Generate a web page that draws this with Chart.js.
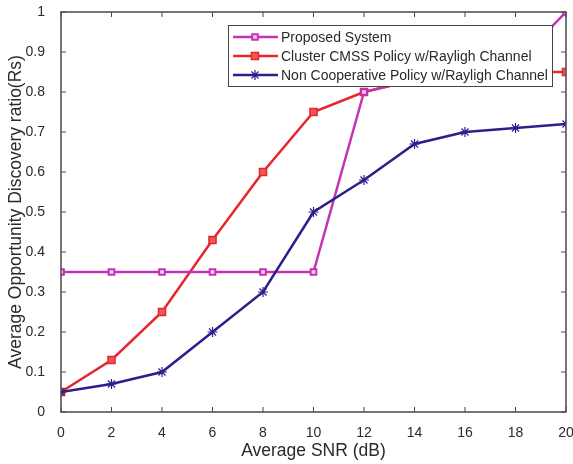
<!DOCTYPE html>
<html>
<head>
<meta charset="utf-8">
<script src="https://cdn.jsdelivr.net/npm/chart.js@4"></script>
<style>
  html, body { margin: 0; padding: 0; background: #fff; }
  #wrap { width: 573px; height: 464px; }
</style>
</head>
<body>
<div id="wrap"><canvas id="chart-snr" width="573" height="464"></canvas></div>
<script>
// x axis values (dB)
const snrLabels = [0, 2, 4, 6, 8, 10, 12, 14, 16, 18, 20];

// series
const proposedSystem = [0.35, 0.35, 0.35, 0.35, 0.35, 0.35, 0.8, 0.83, 0.85, 0.87, 1.0];
const clusterCmss = [0.05, 0.13, 0.25, 0.43, 0.6, 0.75, 0.8, 0.83, 0.85, 0.85, 0.85];
const nonCooperative = [0.05, 0.07, 0.1, 0.2, 0.3, 0.5, 0.58, 0.67, 0.7, 0.71, 0.72];

const seriesNames = [
  "Proposed System",
  "Cluster CMSS Policy w/Rayligh Channel",
  "Non Cooperative Policy w/Rayligh Channel",
];

const FONT = "'Liberation Sans', Arial, sans-serif";
const AXIS_COLOR = "#4a4a4a";
const TEXT_COLOR = "#2a2a2a";

function toPoints(arr) {
  return snrLabels.map((x, i) => ({ x: x, y: arr[i] }));
}

// box around plot + inward ticks (matlab style) + legend box
const boxPlugin = {
  id: "boxPlugin",
  afterDatasetsDraw(chart) {
    const { ctx, chartArea } = chart;
    const xs = chart.scales.x;
    const ys = chart.scales.y;
    ctx.save();
    ctx.strokeStyle = AXIS_COLOR;
    ctx.lineWidth = 1.5;
    ctx.strokeRect(chartArea.left, chartArea.top, chartArea.right - chartArea.left, chartArea.bottom - chartArea.top);
    ctx.lineWidth = 1;
    const len = 5;
    xs.ticks.forEach((t) => {
      const px = xs.getPixelForValue(t.value);
      ctx.beginPath();
      ctx.moveTo(px, chartArea.bottom);
      ctx.lineTo(px, chartArea.bottom - len);
      ctx.moveTo(px, chartArea.top);
      ctx.lineTo(px, chartArea.top + len);
      ctx.stroke();
    });
    ys.ticks.forEach((t) => {
      const py = ys.getPixelForValue(t.value);
      ctx.beginPath();
      ctx.moveTo(chartArea.left, py);
      ctx.lineTo(chartArea.left + len, py);
      ctx.moveTo(chartArea.right, py);
      ctx.lineTo(chartArea.right - len, py);
      ctx.stroke();
    });
    ctx.restore();
  },
  afterDraw(chart) {
    const { ctx } = chart;
    const bx = 228, by = 25, bw = 324, bh = 61;
    ctx.save();
    ctx.fillStyle = "#fff";
    ctx.fillRect(bx, by, bw, bh);
    ctx.strokeStyle = "#444";
    ctx.lineWidth = 1;
    ctx.strokeRect(bx + 0.5, by + 0.5, bw, bh);
    const rows = [37, 56, 75];
    chart.data.datasets.forEach((ds, i) => {
      const y = rows[i];
      ctx.strokeStyle = ds.borderColor;
      ctx.lineWidth = 2.5;
      ctx.beginPath();
      ctx.moveTo(bx + 5, y);
      ctx.lineTo(bx + 50, y);
      ctx.stroke();
      ctx.fillStyle = ds.pointBackgroundColor;
      ctx.strokeStyle = ds.borderColor;
      ctx.lineWidth = ds.pointBorderWidth;
      Chart.helpers.drawPoint(ctx, {
        pointStyle: ds.pointStyle,
        radius: ds.pointRadius,
        borderWidth: ds.pointBorderWidth,
        rotation: 0,
      }, bx + 27, y);
      ctx.fillStyle = TEXT_COLOR;
      ctx.font = "14px " + FONT;
      ctx.textBaseline = "middle";
      ctx.textAlign = "left";
      ctx.fillText(ds.label, bx + 53, y + 1);
    });
    ctx.restore();
  },
};

const ctxSnr = document.getElementById("chart-snr");

new Chart(ctxSnr, {
  type: "line",
  data: {
    datasets: [
      {
        label: seriesNames[0],
        data: toPoints(proposedSystem),
        borderColor: "#c234b4",
        backgroundColor: "#f2d2ee",
        pointBackgroundColor: "#f2d2ee",
        pointStyle: "rect",
        pointRadius: 4,
        pointBorderWidth: 2,
        borderWidth: 2.5,
        order: 1,
      },
      {
        label: seriesNames[1],
        data: toPoints(clusterCmss),
        borderColor: "#e8252b",
        backgroundColor: "#e8252b",
        pointBackgroundColor: "#ee5a5a",
        pointStyle: "rect",
        pointRadius: 5,
        pointBorderWidth: 1.5,
        borderWidth: 2.5,
        order: 2,
      },
      {
        label: seriesNames[2],
        data: toPoints(nonCooperative),
        borderColor: "#2c1f8c",
        backgroundColor: "#2c1f8c",
        pointBackgroundColor: "#2c1f8c",
        pointStyle: "star",
        pointRadius: 5,
        pointBorderWidth: 1.2,
        borderWidth: 2.5,
        order: 0,
      },
    ],
  },
  options: {
    responsive: false,
    animation: false,
    layout: { padding: { top: 12, right: 7, left: 0, bottom: 0 } },
    plugins: {
      legend: { display: false },
      tooltip: { enabled: false },
    },
    scales: {
      x: {
        type: "linear",
        min: 0,
        max: 20,
        ticks: { stepSize: 2, color: TEXT_COLOR, font: { family: FONT, size: 14 }, padding: 5 },
        grid: { display: false },
        border: { display: false },
        title: { display: true, text: "Average SNR (dB)", color: TEXT_COLOR, font: { family: FONT, size: 17.5 }, padding: { top: 0, bottom: 2 } },
        afterFit(scale) {
          scale.height = 52;
          scale.paddingLeft = 0;
          scale.paddingRight = 0;
        },
      },
      y: {
        min: 0,
        max: 1,
        ticks: {
          stepSize: 0.1,
          color: TEXT_COLOR,
          font: { family: FONT, size: 14 },
          padding: 8,
          callback: (v) => String(Number(v.toFixed(1))),
        },
        grid: { display: false },
        border: { display: false },
        title: { display: true, text: "Average Opportunity Discovery ratio(Rs)", color: TEXT_COLOR, font: { family: FONT, size: 17.5 }, padding: { top: 6, bottom: 0 } },
        afterFit(scale) {
          scale.width = 61;
          scale.paddingTop = 0;
          scale.paddingBottom = 0;
        },
      },
    },
  },
  plugins: [boxPlugin],
});
</script>
</body>
</html>
